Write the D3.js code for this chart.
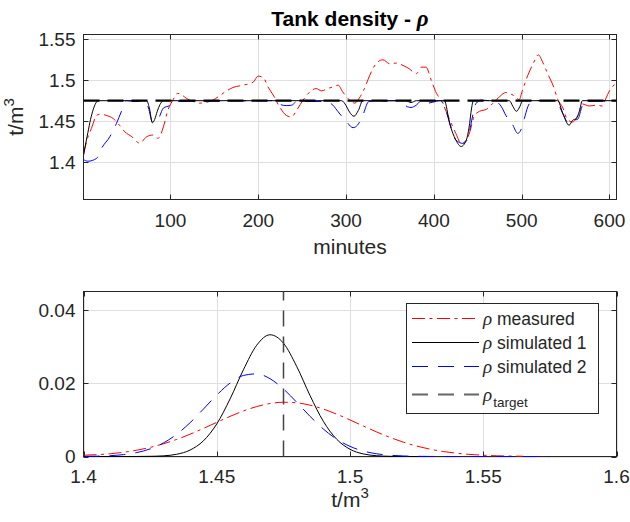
<!DOCTYPE html>
<html>
<head>
<meta charset="utf-8">
<script src="https://cdn.jsdelivr.net/npm/d3@7"></script>
<style>
  html, body { margin: 0; padding: 0; background: #fff; }
  svg { display: block; }
  text { font-family: "Liberation Sans", Arial, Helvetica, sans-serif; }
</style>
</head>
<body>
<svg id="chart" width="630" height="522"></svg>
<script>
// ---------- Top chart data (minutes vs density t/m^3) ----------
const tMeasured = [1,5,10,16,20,27,35,42,48,56,65,73,80,86,92,97,103,108,113,118,126,133,141,149,156,164,171,183,194,200,206,211,217,224,232,238,243,251,259,266,272,279,285,291,296,302,310,315,321,327,334,342,350,357,365,372,380,386,391,397,403,408,414,418,425,431,437,441,446,452,460,467,475,482,488,493,497,501,507,513,519,524,530,536,541,547,552,558,564,569,577,585,592,596,600,606];
const measured = [1.408,1.427,1.441,1.457,1.4585,1.457,1.453,1.445,1.437,1.431,1.423,1.431,1.433,1.429,1.443,1.463,1.476,1.484,1.482,1.478,1.474,1.472,1.473,1.476,1.481,1.487,1.491,1.494,1.4975,1.505,1.503,1.492,1.482,1.468,1.457,1.455,1.462,1.4756,1.486,1.4898,1.487,1.4898,1.4918,1.494,1.486,1.478,1.472,1.478,1.49,1.506,1.52,1.525,1.52,1.521,1.518,1.514,1.508,1.516,1.516,1.5,1.484,1.476,1.462,1.452,1.435,1.423,1.427,1.437,1.456,1.462,1.4645,1.4716,1.48,1.485,1.483,1.4797,1.476,1.488,1.506,1.52,1.531,1.522,1.507,1.493,1.477,1.466,1.452,1.449,1.457,1.471,1.4685,1.4695,1.4685,1.478,1.487,1.495];

const tSim1 = [1,3,6,9,12,15,18,73,76,79.5,82,85,88,92,295,300,304,309,314,319,368,374,380,412,418,425,431,437,440,443,445,486,490,494,498,501,541,547,554,558,562,566,569,608];
const sim1 = [1.409,1.42,1.436,1.452,1.464,1.472,1.475,1.475,1.466,1.448,1.452,1.462,1.470,1.475,1.475,1.469,1.461,1.456,1.463,1.475,1.475,1.4727,1.475,1.475,1.447,1.427,1.419,1.427,1.4415,1.466,1.475,1.475,1.468,1.462,1.468,1.475,1.475,1.459,1.445,1.451,1.453,1.463,1.475,1.475];

const tSim2 = [1,6,16,21.5,31,38.5,44,50,60,70,75,79.5,86,92,99,105,150,220,226,232,238,244,277,285,291,300,308,313,319,326,362,367,374,380,386,393,398,408,413,418,425,433,439,442,448,454,471,477,482,490,495.5,499,503,507,512,538,541,547,552,556,560,564,568,571,608];
const sim2 = [1.403,1.401,1.4045,1.4167,1.431,1.447,1.4614,1.475,1.474,1.475,1.466,1.449,1.4525,1.466,1.469,1.474,1.4745,1.475,1.470,1.469,1.4695,1.474,1.474,1.4695,1.4614,1.450,1.442,1.445,1.457,1.474,1.475,1.4695,1.4667,1.4695,1.475,1.472,1.473,1.475,1.465,1.448,1.427,1.4228,1.429,1.445,1.4716,1.4756,1.4736,1.4675,1.457,1.445,1.435,1.439,1.453,1.4675,1.475,1.475,1.4716,1.459,1.449,1.4475,1.451,1.4525,1.4655,1.474,1.475];

const rhoTarget = 1.475;
const topTimeRange = [1, 608];

const topXTicks = [100, 200, 300, 400, 500, 600];
const topYTicks = [1.4, 1.45, 1.5, 1.55];
const topYTickLabels = ["1.4", "1.45", "1.5", "1.55"];

// ---------- Bottom chart data (density distribution) ----------
const densX = [1.400,1.405,1.410,1.415,1.420,1.425,1.430,1.435,1.440,1.445,1.450,1.455,1.460,1.465,1.470,1.475,1.480,1.485,1.490,1.495,1.500,1.505,1.510,1.515,1.520,1.525,1.530,1.535,1.540,1.545,1.550,1.555,1.560,1.565,1.570,1.575];
const densMeasured = [0.00035,0.0005,0.00075,0.00115,0.00172,0.00249,0.00347,0.00467,0.00608,0.00766,0.00931,0.01094,0.01241,0.01362,0.01444,0.0148,0.01464,0.014,0.01294,0.01155,0.00997,0.00831,0.0067,0.00521,0.00392,0.00285,0.002,0.00136,0.00089,0.00057,0.00035,0.0002,0.00012,0.00007,null,null];
const densSim1 = [0,0,0,0.000002,0.00001,0.00005,0.00018,0.00061,0.00176,0.00428,0.00888,0.0157,0.02365,0.03035,0.0332,0.03094,0.02457,0.01663,0.00959,0.00471,0.00197,0.0007,0.00021,0.000055,0.00001,0,0,null,null,null,null,null,null,null,null,null];
const densSim2 = [0.000035,0.000093,0.000227,0.000514,0.00107,0.00207,0.0037,0.00607,0.00922,0.01294,0.01675,0.02003,0.0221,0.02254,0.02121,0.01844,0.01479,0.01096,0.0075,0.00473,0.00276,0.00149,0.00074,0.00034,0.00014,0.000056,0.00002,0.000006,0,0,0,0,0,0,0,0];

const botXTicks = [1.4, 1.45, 1.5, 1.55, 1.6];
const botXTickLabels = ["1.4", "1.45", "1.5", "1.55", "1.6"];
const botYTicks = [0, 0.02, 0.04];
const botYTickLabels = ["0", "0.02", "0.04"];

const legendLabels = ["measured", "simulated 1", "simulated 2", "target"];

// ---------- Drawing ----------
const svg = d3.select("#chart");
const AX = "#262626", GRID = "#dfdfdf";
const TICKFONT = 19;

function drawFrame(g, x, y, xTicks, xLabels, yTicks, yLabels, xLabelBase) {
  const [x0, x1] = x.range();
  const [y0, y1] = y.range(); // y0 bottom, y1 top
  // grid
  g.append("g").selectAll("line").data(xTicks).join("line")
    .attr("x1", d => Math.round(x(d)) + 0.5).attr("x2", d => Math.round(x(d)) + 0.5)
    .attr("y1", y0).attr("y2", y1).attr("stroke", GRID).attr("stroke-width", 1);
  g.append("g").selectAll("line").data(yTicks).join("line")
    .attr("y1", d => Math.round(y(d)) + 0.5).attr("y2", d => Math.round(y(d)) + 0.5)
    .attr("x1", x0).attr("x2", x1).attr("stroke", GRID).attr("stroke-width", 1);
  // box
  g.append("rect").attr("x", x0).attr("y", y1).attr("width", x1 - x0).attr("height", y0 - y1)
    .attr("fill", "none").attr("stroke", AX).attr("stroke-width", 1);
  // ticks (inward, mirrored)
  const tl = 5;
  const tg = g.append("g").attr("stroke", AX).attr("stroke-width", 1);
  xTicks.forEach(d => {
    const px = Math.round(x(d)) + 0.5;
    tg.append("line").attr("x1", px).attr("x2", px).attr("y1", y0).attr("y2", y0 - tl);
    tg.append("line").attr("x1", px).attr("x2", px).attr("y1", y1).attr("y2", y1 + tl);
  });
  yTicks.forEach(d => {
    const py = Math.round(y(d)) + 0.5;
    tg.append("line").attr("y1", py).attr("y2", py).attr("x1", x0).attr("x2", x0 + tl);
    tg.append("line").attr("y1", py).attr("y2", py).attr("x1", x1).attr("x2", x1 - tl);
  });
  // labels
  g.append("g").selectAll("text").data(xTicks).join("text")
    .attr("x", d => x(d)).attr("y", xLabelBase)
    .attr("text-anchor", "middle").attr("font-size", TICKFONT).attr("fill", AX)
    .text((d, i) => xLabels[i]);
  g.append("g").selectAll("text").data(yTicks).join("text")
    .attr("x", x0 - 8).attr("y", d => y(d)).attr("dy", "0.36em")
    .attr("text-anchor", "end").attr("font-size", TICKFONT).attr("fill", AX)
    .text((d, i) => yLabels[i]);
}

// ---- top
const xT = d3.scaleLinear().domain(topTimeRange).range([83.5, 616.5]);
const yT = d3.scaleLinear().domain([1.3542, 1.5559]).range([199.5, 34.5]);
const gTop = svg.append("g");
drawFrame(gTop, xT, yT, topXTicks, topXTicks.map(String), topYTicks, topYTickLabels, 227);

svg.append("clipPath").attr("id", "clipTop").append("rect")
  .attr("x", 83.5).attr("y", 34.5).attr("width", 533).attr("height", 165);
const plotTop = gTop.append("g").attr("clip-path", "url(#clipTop)");

const lineT = (ts) => d3.line().x((d, i) => xT(ts[i])).y(d => yT(d));

plotTop.append("path").datum(measured)
  .attr("d", lineT(tMeasured).curve(d3.curveMonotoneX))
  .attr("fill", "none").attr("stroke", "#ff0000").attr("stroke-width", 1)
  .attr("stroke-dasharray", "13,4.5,3,4.5");
plotTop.append("path").datum(sim2)
  .attr("d", lineT(tSim2).curve(d3.curveMonotoneX))
  .attr("fill", "none").attr("stroke", "#0000ff").attr("stroke-width", 1)
  .attr("stroke-dasharray", "16,10");
plotTop.append("path").datum(sim1)
  .attr("d", lineT(tSim1).curve(d3.curveMonotoneX))
  .attr("fill", "none").attr("stroke", "#000").attr("stroke-width", 1);
plotTop.append("path").datum([rhoTarget, rhoTarget])
  .attr("d", lineT(topTimeRange))
  .attr("fill", "none").attr("stroke", "#000").attr("stroke-width", 2.2)
  .attr("stroke-dasharray", "16,8");

// title
svg.append("text").attr("x", 350).attr("y", 26).attr("text-anchor", "middle")
  .attr("font-size", 21).attr("font-weight", "bold").attr("fill", "#000")
  .call(t => {
    t.append("tspan").text("Tank density - ");
    t.append("tspan").attr("font-family", "'Liberation Serif', 'DejaVu Serif', serif")
      .attr("font-style", "italic").attr("font-size", 23).text("ρ");
  });
// x label
svg.append("text").attr("x", 350).attr("y", 254).attr("text-anchor", "middle")
  .attr("font-size", 21).attr("fill", AX).text("minutes");
// y label
svg.append("text").attr("transform", "translate(23,117) rotate(-90)")
  .attr("text-anchor", "middle").attr("font-size", 21).attr("fill", AX)
  .call(t => {
    t.append("tspan").text("t/m");
    t.append("tspan").attr("font-size", 15).attr("dy", -9).text("3");
  });

// ---- bottom
const xB = d3.scaleLinear().domain([1.4, 1.6]).range([83.5, 616.5]);
const yB = d3.scaleLinear().domain([0, 0.045]).range([456.5, 291.5]);
const gBot = svg.append("g");
drawFrame(gBot, xB, yB, botXTicks, botXTickLabels, botYTicks, botYTickLabels, 483);

svg.append("clipPath").attr("id", "clipBot").append("rect")
  .attr("x", 83).attr("y", 291).attr("width", 534).attr("height", 167);
const plotBot = gBot.append("g").attr("clip-path", "url(#clipBot)");

const lineB = d3.line().defined(d => d != null).x((d, i) => xB(densX[i])).y(d => yB(d)).curve(d3.curveMonotoneX);

plotBot.append("path").datum(densMeasured).attr("d", lineB)
  .attr("fill", "none").attr("stroke", "#ff0000").attr("stroke-width", 1)
  .attr("stroke-dasharray", "13,4.5,3,4.5");
plotBot.append("path").datum(densSim1).attr("d", lineB)
  .attr("fill", "none").attr("stroke", "#000").attr("stroke-width", 1);
plotBot.append("path").datum(densSim2).attr("d", lineB)
  .attr("fill", "none").attr("stroke", "#0000ff").attr("stroke-width", 1)
  .attr("stroke-dasharray", "16,10");
// target vertical line
plotBot.append("line")
  .attr("x1", Math.round(xB(rhoTarget)) + 0.5).attr("x2", Math.round(xB(rhoTarget)) + 0.5)
  .attr("y1", yB.range()[0]).attr("y2", yB.range()[1])
  .attr("stroke", "#444").attr("stroke-width", 1.5).attr("stroke-dasharray", "16,10");

// x label bottom
svg.append("text").attr("x", 350).attr("y", 507).attr("text-anchor", "middle")
  .attr("font-size", 21).attr("fill", AX)
  .call(t => {
    t.append("tspan").text("t/m");
    t.append("tspan").attr("font-size", 15).attr("dy", -9).text("3");
  });

// legend
const leg = svg.append("g");
leg.append("rect").attr("x", 406.5).attr("y", 303.5).attr("width", 192).attr("height", 110)
  .attr("fill", "#fff").attr("stroke", AX).attr("stroke-width", 1);
const legRows = [318.5, 342.5, 366.5, 394.5];
const legStyles = [
  {stroke: "#ff0000", w: 1, dash: "13,4.5,3,4.5"},
  {stroke: "#000", w: 1, dash: null},
  {stroke: "#0000ff", w: 1, dash: "16,10"},
  {stroke: "#666", w: 2, dash: "16,10"}
];
legendLabels.forEach((lab, i) => {
  const yy = legRows[i];
  const s = legStyles[i];
  leg.append("line").attr("x1", 412).attr("x2", 479).attr("y1", yy).attr("y2", yy)
    .attr("stroke", s.stroke).attr("stroke-width", s.w).attr("stroke-dasharray", s.dash);
  const t = leg.append("text").attr("x", 483).attr("y", yy + 6.5)
    .attr("font-size", 17.5).attr("fill", AX);
  t.append("tspan").attr("font-family", "'Liberation Serif', 'DejaVu Serif', serif")
    .attr("font-style", "italic").attr("font-size", 19).text("ρ");
  if (i < 3) {
    t.append("tspan").text(" " + lab);
  } else {
    t.append("tspan").attr("font-size", 13.5).attr("dy", 6).attr("dx", 1).text(lab);
  }
});
</script>
</body>
</html>
